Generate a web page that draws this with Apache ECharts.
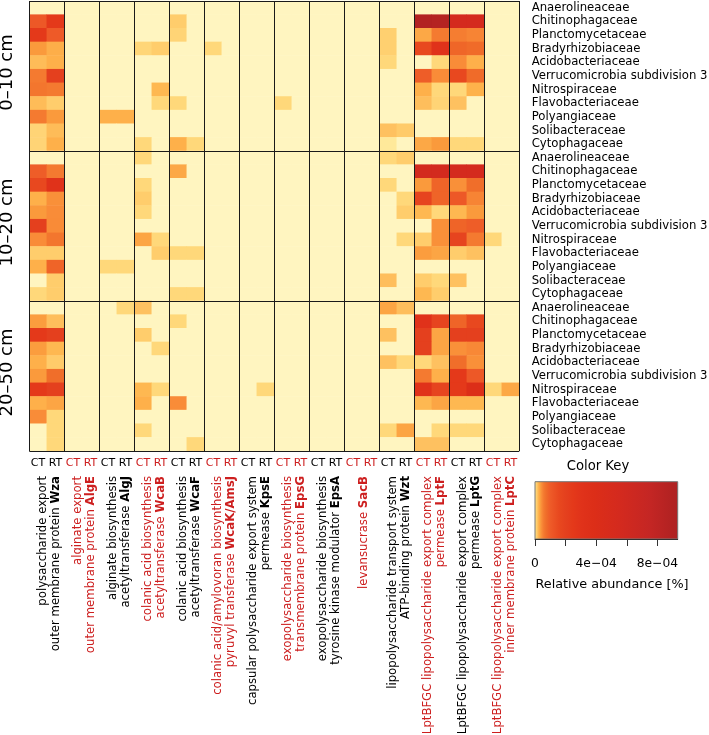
<!DOCTYPE html>
<html>
<head>
<meta charset="utf-8">
<script src="https://cdn.jsdelivr.net/npm/echarts@6/dist/echarts.min.js"></script>
<style>
html,body{margin:0;padding:0;background:#fff;}
#c{width:709px;height:735px;}
</style>
</head>
<body>
<div id="c"></div>
<script>
// ---------------- data ----------------
const families = ['Anaerolineaceae','Chitinophagaceae','Planctomycetaceae','Bradyrhizobiaceae','Acidobacteriaceae','Verrucomicrobia subdivision 3','Nitrospiraceae','Flavobacteriaceae','Polyangiaceae','Solibacteraceae','Cytophagaceae'];
const depthLabels = ['0\u201310 cm','10\u201320 cm','20\u201350 cm'];
const treatments = ['CT','RT'];
const geneLine1 = ['polysaccharide export','alginate export','alginate biosynthesis','colanic acid biosynthesis','colanic acid biosynthesis','colanic acid/amylovoran biosynthesis','capsular polysaccharide export system','exopolysaccharide biosynthesis','exopolysaccharide biosynthesis','','lipopolysaccharide transport system','LptBFGC lipopolysaccharide export complex','LptBFGC lipopolysaccharide export complex','LptBFGC lipopolysaccharide export complex'];
const geneLine2 = ['outer membrane protein ','outer membrane protein ','acetyltransferase ','acetyltransferase ','acetyltransferase ','pyruvyl transferase ','permease ','transmembrane protein ','tyrosine kinase modulator ','levansucrase ','ATP-binding protein ','permease ','permease ','inner membrane protein '];
const geneBold = ['Wza','AlgE','AlgJ','WcaB','WcaF','WcaK/AmsJ','KpsE','EpsG','EpsA','SacB','Wzt','LptF','LptG','LptC'];

// relative abundance, rows = families, columns = gene x (CT, RT)
const depth0_10 = [
 [0,0, 0,0, 0,0, 0,0, 0,0, 0,0, 0,0, 0,0, 0,0, 0,0, 0,0, 0,0, 0,0, 0,0],
 [1.1e-4,2.5e-4, 0,0, 0,0, 0,0, 1.5e-5,0, 0,0, 0,0, 0,0, 0,0, 0,0, 0,0, 8.9e-4,8.7e-4, 5.5e-4,5.4e-4, 0,0],
 [2.5e-4,1.05e-4, 0,0, 0,0, 0,0, 1e-5,0, 0,0, 0,0, 0,0, 0,0, 0,0, 1.3e-5,0, 3.2e-5,6e-5, 5.8e-5,5.3e-5, 0,0],
 [4e-5,2.9e-5, 0,0, 0,0, 9e-6,1.5e-5, 0,0, 8e-6,0, 0,0, 0,0, 0,0, 0,0, 1.3e-5,0, 1.6e-4,3.1e-4, 8.5e-5,8e-5, 0,0],
 [2.2e-5,2.8e-5, 0,0, 0,0, 0,0, 0,0, 0,0, 0,0, 0,0, 0,0, 0,0, 8e-6,0, 0,8e-6, 4.7e-5,2.8e-5, 0,0],
 [6e-5,2.05e-4, 0,0, 0,0, 0,0, 0,0, 0,0, 0,0, 0,0, 0,0, 0,0, 0,0, 1e-4,4.7e-5, 1.6e-4,8e-5, 0,0],
 [6.5e-5,6e-5, 0,0, 0,0, 0,2.4e-5, 0,0, 0,0, 0,0, 0,0, 0,0, 0,0, 0,0, 2.8e-5,8e-6, 8e-6,2.7e-5, 0,0],
 [2.2e-5,1.5e-5, 0,0, 0,0, 0,8e-6, 8e-6,0, 0,0, 0,0, 8e-6,0, 0,0, 0,0, 0,0, 2.1e-5,1e-5, 2e-5,0, 0,0],
 [6e-5,4e-5, 0,0, 2.8e-5,2.8e-5, 0,0, 0,0, 0,0, 0,0, 0,0, 0,0, 0,0, 0,0, 0,0, 0,0, 0,0],
 [1e-5,2.2e-5, 0,0, 0,0, 0,0, 0,0, 0,0, 0,0, 0,0, 0,0, 0,0, 2e-5,1.6e-5, 0,0, 0,0, 0,0],
 [1e-5,2.8e-5, 0,0, 0,0, 8e-6,0, 2.8e-5,8e-6, 0,0, 0,0, 0,0, 0,0, 0,0, 2e-6,0, 3.2e-5,4e-5, 8e-6,8e-6, 0,0]
];
const depth10_20 = [
 [0,0, 0,0, 0,0, 8e-6,0, 0,0, 0,0, 0,0, 0,0, 0,0, 0,0, 8e-6,1.5e-5, 0,0, 0,0, 0,0],
 [1e-4,6e-5, 0,0, 0,0, 0,0, 3.2e-5,0, 0,0, 0,0, 0,0, 0,0, 0,0, 0,0, 5.6e-4,5.6e-4, 5.5e-4,5.5e-4, 0,0],
 [1.6e-4,3.1e-4, 0,0, 0,0, 8e-6,0, 0,0, 0,0, 0,0, 0,0, 0,0, 0,0, 8e-6,0, 4e-5,8.9e-5, 4.5e-5,7.5e-5, 0,0],
 [2.8e-5,4.5e-5, 0,0, 0,0, 1.5e-5,0, 0,0, 0,0, 0,0, 0,0, 0,0, 0,0, 0,8e-6, 1.8e-4,8.9e-5, 1.1e-4,5.3e-5, 0,0],
 [4e-5,4.7e-5, 0,0, 0,0, 8e-6,0, 0,0, 0,0, 0,0, 0,0, 0,0, 0,0, 0,1.5e-5, 2.4e-5,8e-6, 2.4e-5,4e-5, 0,0],
 [2.05e-4,4.8e-5, 0,0, 0,0, 0,0, 0,0, 0,0, 0,0, 0,0, 0,0, 0,0, 0,0, 0,4.5e-5, 8.9e-5,1e-4, 0,0],
 [4.7e-5,6.5e-5, 0,0, 0,0, 3.4e-5,8e-6, 0,0, 0,0, 0,0, 0,0, 0,0, 0,0, 0,8e-6, 1.5e-5,4.5e-5, 1.8e-4,6e-5, 8e-6,0],
 [1.5e-5,1.5e-5, 0,0, 0,0, 0,1.5e-5, 8e-6,8e-6, 0,0, 0,0, 0,0, 0,0, 0,0, 0,0, 3.8e-5,3.4e-5, 1.5e-5,2e-5, 0,0],
 [2.8e-5,8.9e-5, 0,0, 8e-6,8e-6, 0,0, 0,0, 0,0, 0,0, 0,0, 0,0, 0,0, 0,0, 0,0, 0,0, 0,0],
 [0,1.5e-5, 0,0, 0,0, 0,0, 0,0, 0,0, 0,0, 0,0, 0,0, 0,0, 2.1e-5,0, 1.5e-5,8e-6, 2e-5,0, 0,0],
 [8e-6,1.5e-5, 0,0, 0,0, 0,0, 8e-6,8e-6, 0,0, 0,0, 0,0, 0,0, 0,0, 0,0, 2.4e-5,1.5e-5, 0,0, 0,0]
];
const depth20_50 = [
 [0,0, 0,0, 0,8e-6, 2e-5,0, 0,0, 0,0, 0,0, 0,0, 0,0, 0,0, 3.4e-5,2.1e-5, 0,0, 0,0, 0,0],
 [3.8e-5,2.1e-5, 0,0, 0,0, 0,0, 8e-6,0, 0,0, 0,0, 0,0, 0,0, 0,0, 0,0, 3.1e-4,1.8e-4, 8.9e-5,1.6e-4, 0,0],
 [2.5e-4,2.05e-4, 0,0, 0,0, 1.5e-5,0, 0,0, 0,0, 0,0, 0,0, 0,0, 0,0, 2e-5,0, 2.05e-4,3.4e-5, 2.05e-4,2.05e-4, 0,0],
 [3.8e-5,2.4e-5, 0,0, 0,0, 0,8e-6, 0,0, 0,0, 0,0, 0,0, 0,0, 0,0, 0,0, 2.05e-4,3.4e-5, 4.5e-5,5e-5, 0,0],
 [2.8e-5,1.6e-5, 0,0, 0,0, 0,0, 0,0, 0,0, 0,0, 0,0, 0,0, 0,0, 2e-5,8e-6, 8e-6,2e-5, 7.5e-5,4.5e-5, 0,0],
 [4e-5,7.5e-5, 0,0, 0,0, 0,0, 0,0, 0,0, 0,0, 0,0, 0,0, 0,0, 0,0, 6e-5,2.8e-5, 2.5e-4,1.1e-4, 0,0],
 [2.5e-4,2.05e-4, 0,0, 0,0, 2.4e-5,8e-6, 0,0, 0,0, 0,8e-6, 0,0, 0,0, 0,0, 0,0, 3.1e-4,1.8e-4, 2.5e-4,3.9e-4, 8e-6,3.2e-5],
 [2.8e-5,3.4e-5, 0,0, 0,0, 2.8e-5,0, 4.7e-5,0, 0,0, 0,0, 0,0, 0,0, 0,0, 0,0, 2.4e-5,3.4e-5, 2.4e-5,2.4e-5, 0,0],
 [4.7e-5,8e-6, 0,0, 0,0, 0,0, 0,0, 0,0, 0,0, 0,0, 0,0, 0,0, 0,0, 0,0, 0,0, 0,0],
 [0,8e-6, 0,0, 0,0, 8e-6,0, 0,0, 0,0, 0,0, 0,0, 0,0, 0,0, 8e-6,3.4e-5, 0,8e-6, 8e-6,8e-6, 0,0],
 [0,8e-6, 0,0, 0,0, 0,0, 0,8e-6, 0,0, 0,0, 0,0, 0,0, 0,0, 0,0, 2e-5,2e-5, 0,0, 0,0]
];

const keyMax = 9.33e-4;
const keyTicks = [0, 2e-4, 4e-4, 6e-4, 8e-4];
const keyLabelValues = [0, 4e-4, 8e-4];
const keyLabelTexts = ['0', '4e\u221204', '8e\u221204'];

// ---------------- style ----------------
const FONT = 'DejaVu Sans';
const RED = '#CD1F1F';
const scaleStopValues = [0, 2e-6, 8e-6, 1.5e-5, 2e-5, 2.4e-5, 2.8e-5, 3.4e-5, 4e-5, 4.7e-5, 6e-5, 7.5e-5, 8.9e-5, 1.05e-4, 1.6e-4, 2.05e-4, 2.5e-4, 3.1e-4, 3.9e-4, 5.5e-4, 7.5e-4, 8.9e-4, keyMax];
const scaleStopColors = ['#FFF5C0','#FFE894','#FFD77A','#FFCE6C','#FEC060','#FEB850','#FEB04A','#FCA444','#FA9A3C','#F98C38','#F47A30','#F06E2A','#EF6428','#EE5A28','#E8481F','#E4401E','#E4391A','#E0321A','#DC2E18','#D42A1E','#C42624','#B22222','#AE2224'];

function hexRgb(h){return [parseInt(h.slice(1,3),16),parseInt(h.slice(3,5),16),parseInt(h.slice(5,7),16)];}
function colorAt(v){
  for (let i = 1; i < scaleStopValues.length; i++) {
    if (v <= scaleStopValues[i]) {
      const t = (v - scaleStopValues[i-1]) / (scaleStopValues[i] - scaleStopValues[i-1]);
      const a = hexRgb(scaleStopColors[i-1]), b = hexRgb(scaleStopColors[i]);
      return 'rgb(' + [0,1,2].map(k => Math.round(a[k] + (b[k]-a[k])*t)).join(',') + ')';
    }
  }
  return scaleStopColors[scaleStopColors.length-1];
}
const NCOL = 600;
const rampColors = [];
for (let i = 0; i < NCOL; i++) rampColors.push(colorAt(keyMax * i / (NCOL - 1)));

// ---------------- build ----------------
const sections = [depth0_10, depth10_20, depth20_50];
const rowLabels = [].concat(families, families, families);
const colLabels = [];
geneBold.forEach(() => treatments.forEach(t => colLabels.push(t)));
const heatData = [];
sections.forEach((sec, s) => sec.forEach((row, r) => row.forEach((v, c) => heatData.push([c, s * families.length + r, v]))));
const groupColor = g => (g % 2 === 0 ? '#000' : RED);

const GL = 29.3, GT = 1, GW = 490, GH = 450;
const chart = echarts.init(document.getElementById('c'), null, {renderer: 'canvas', width: 709, height: 735});

chart.setOption({
  backgroundColor: '#fff',
  animation: false,
  grid: [
    {left: GL, top: GT, width: GW, height: GH, containLabel: false, outerBoundsMode: 'none'},
    {left: 535, top: 481.7, width: 142.7, height: 57.3, containLabel: false, outerBoundsMode: 'none'}
  ],
  xAxis: [
    {gridIndex: 0, type: 'category', data: colLabels, position: 'bottom', z: 10,
     axisLine: {show: false}, axisTick: {show: false},
     axisLabel: {interval: 0, margin: 7, fontSize: 11, fontFamily: FONT,
                 color: (val, idx) => groupColor(Math.floor(idx / 2))},
     splitLine: {show: true, interval: (i) => i % treatments.length === 0, lineStyle: {color: '#1a1a1a', width: 1}}},
    {gridIndex: 1, type: 'value', min: 0, max: keyMax, z: 10,
     axisLine: {show: true, onZero: false, lineStyle: {color: '#333', width: 1}},
     axisTick: {show: true, inside: false, length: 7, customValues: keyTicks, lineStyle: {color: '#333', width: 1}},
     axisLabel: {show: true, margin: 19, fontSize: 12.3, fontFamily: FONT, color: '#000',
                 customValues: keyLabelValues,
                 formatter: v => { const i = keyLabelValues.findIndex(k => Math.abs(k - v) < 1e-9); return i >= 0 ? keyLabelTexts[i] : ''; }},
     splitLine: {show: false}}
  ],
  yAxis: [
    {gridIndex: 0, type: 'category', data: rowLabels, inverse: true, position: 'right', z: 10,
     axisLine: {show: false}, axisTick: {show: false},
     axisLabel: {interval: 0, margin: 12.4, fontSize: 11.7, fontFamily: FONT, color: '#000'},
     splitLine: {show: true, interval: (i) => i % families.length === 0, lineStyle: {color: '#1a1a1a', width: 1}}},
    {gridIndex: 1, type: 'value', min: 0, max: 1, show: false}
  ],
  visualMap: {
    type: 'continuous', show: false, min: 0, max: keyMax, dimension: 2, seriesIndex: 0,
    inRange: {color: rampColors}
  },
  series: [{
    type: 'heatmap', xAxisIndex: 0, yAxisIndex: 0, data: heatData,
    itemStyle: {borderWidth: 0}, emphasis: {disabled: true}, progressive: 0
  }]
});

// ---------------- annotations ----------------
const graphics = [];
graphics.push({
  type: 'rect', z: 1,
  shape: {x: 535, y: 481.7, width: 142.7, height: 57.3},
  style: {
    fill: new echarts.graphic.LinearGradient(0, 0, 1, 0,
      scaleStopValues.map((v, i) => ({offset: v / keyMax, color: scaleStopColors[i]}))),
    stroke: '#777', lineWidth: 1
  }
});
graphics.push({type: 'text', x: 598, y: 467, style: {text: 'Color Key', fontSize: 13.2, fontFamily: FONT, fill: '#000', align: 'center', verticalAlign: 'middle'}});
graphics.push({type: 'text', x: 535.5, y: 585, style: {text: 'Relative abundance [%]', fontSize: 12.8, fontFamily: FONT, fill: '#000', align: 'left', verticalAlign: 'middle'}});

const secH = GH / sections.length;
depthLabels.forEach((t, s) => {
  graphics.push({type: 'text', x: 7.8, y: GT + secH * (s + 0.5) - 3.5, rotation: Math.PI / 2,
    style: {text: t, fontSize: 18, fontFamily: FONT, fill: '#000', align: 'center', verticalAlign: 'middle'}});
});

geneBold.forEach((b, g) => {
  const col = groupColor(g);
  const xRT = chart.convertToPixel({xAxisIndex: 0}, 2 * g + 1);
  const lines = [];
  if (geneLine1[g]) lines.push('{n|' + geneLine1[g] + '}');
  lines.push('{n|' + geneLine2[g] + '}{b|' + b + '}');
  graphics.push({
    type: 'text', x: xRT - 6.3, y: 476, rotation: Math.PI / 2,
    style: {
      text: lines.join('\n'), align: 'right', verticalAlign: 'middle', fill: col,
      fontSize: 11.7, fontFamily: FONT,
      rich: {
        n: {fill: col, fontSize: 11.7, fontFamily: FONT, lineHeight: 12.7, align: 'right'},
        b: {fill: col, fontSize: 11.7, fontFamily: FONT, fontWeight: 'bold', lineHeight: 12.7, align: 'right'}
      }
    }
  });
});

chart.setOption({graphic: graphics});
</script>
</body>
</html>
